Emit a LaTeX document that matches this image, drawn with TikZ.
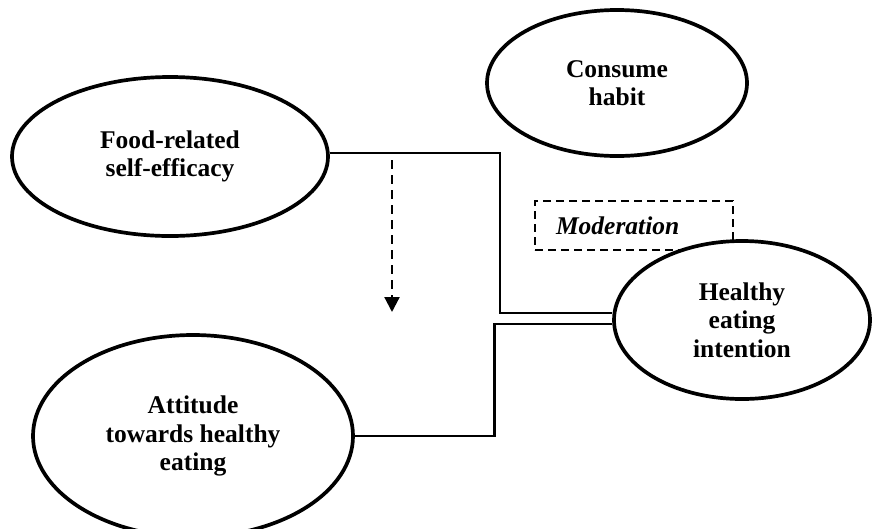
\documentclass[tikz,border=0pt]{standalone}
\usepackage{fontspec}
\setmainfont{Liberation Serif}
\usetikzlibrary{shapes.geometric,arrows.meta,backgrounds}
\begin{document}
\begin{tikzpicture}[x=1pt,y=-1pt,
  var/.style={ellipse,draw,line width=3.7pt,fill=white,inner sep=0pt,align=center,
    font=\fontsize{25.5}{28.5}\selectfont\bfseries},
  conn/.style={line width=2.2pt},
  dasharrow/.style={line width=2.2pt,dash pattern=on 9pt off 6pt,
    -{Triangle[length=15pt,width=15pt]}},
  modbox/.style={draw,line width=2.2pt,dash pattern=on 8pt off 5pt,
    minimum height=49pt,inner xsep=21pt,text width=156pt,align=left,
    font=\fontsize{25.5}{28.5}\selectfont\bfseries\itshape}]
\useasboundingbox (0,0) rectangle (872,528);

\node[var,minimum width=260pt,minimum height=146pt] (consume) at (617,83) {Consume\\habit};
\node[var,minimum width=316pt,minimum height=159pt] (food) at (170,156.5) {Food-related\\self-efficacy};
\node[var,minimum width=320pt,minimum height=202pt] (att) at (193,436) {Attitude\\towards healthy\\eating};
\node[var,minimum width=256pt,minimum height=158pt] (healthy) at (742,320) {Healthy\\eating\\intention};

\coordinate (f1) at (0,153);
\coordinate (f2) at (500,313);
\coordinate (a2) at (494.5,324);
\coordinate (d1) at (392,160);
\coordinate (d2) at (392,312);

\begin{pgfonlayer}{background}
\node[modbox] (mod) at (634,225.5) {Moderation};
\draw[conn] (food.east |- f1) -| (f2) -- (healthy.west |- f2);
\draw[conn] (att.east) -| (a2) -- (healthy.west |- a2);
\end{pgfonlayer}
\draw[dasharrow] (d1) -- (d2);
\end{tikzpicture}
\end{document}
